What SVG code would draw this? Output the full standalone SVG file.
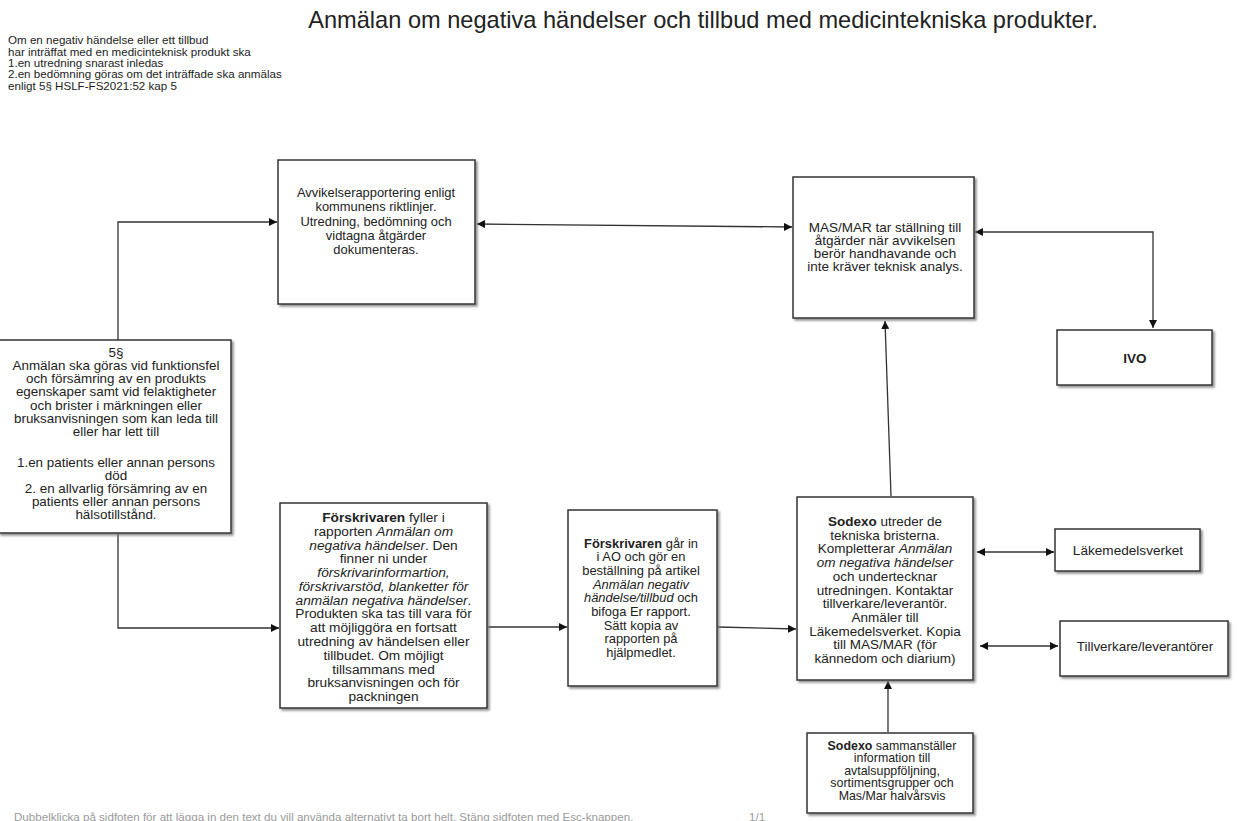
<svg xmlns="http://www.w3.org/2000/svg" width="1237" height="821" viewBox="0 0 1237 821">
<style>
text{font-family:"Liberation Sans",Arial,sans-serif;fill:#222}
.t{text-anchor:middle}
.b{font-weight:bold}
.i{font-style:italic}
.box{fill:#fff;stroke:#333;stroke-width:1.5;filter:url(#sh)}
.c{fill:none;stroke:#333;stroke-width:1.3}
.note{font-size:11.6px}
.foot{font-size:11.6px;fill:#9a9a9a}
</style>
<defs>
<filter id="sh" x="-10%" y="-10%" width="130%" height="130%">
<feDropShadow dx="2" dy="2" stdDeviation="1.3" flood-color="#777" flood-opacity="0.8"/>
</filter>
<marker id="ae" viewBox="0 0 10 10" refX="10" refY="5" markerWidth="8" markerHeight="8" markerUnits="userSpaceOnUse" orient="auto">
<path d="M0,0 L10,5 L0,10 z" fill="#111"/>
</marker>
<marker id="as" viewBox="0 0 10 10" refX="0" refY="5" markerWidth="8" markerHeight="8" markerUnits="userSpaceOnUse" orient="auto">
<path d="M10,0 L0,5 L10,10 z" fill="#111"/>
</marker>
</defs>
<rect width="1237" height="821" fill="#fff"/>

<text x="703" y="28" style="font-size:23.6px;text-anchor:middle">Anmälan om negativa händelser och tillbud med medicintekniska produkter.</text>
<g id="intro">
<text class="note" x="8" y="44">Om en negativ händelse eller ett tillbud</text>
<text class="note" x="8" y="56">har inträffat med en medicinteknisk produkt ska</text>
<text class="note" x="8" y="67">1.en utredning snarast inledas</text>
<text class="note" x="8" y="78">2.en bedömning göras om det inträffade ska anmälas</text>
<text class="note" x="8" y="89.5">enligt 5§ HSLF-FS2021:52 kap 5</text>
</g>

<g id="connectors">
<path class="c" d="M118,340 V222 H277" marker-end="url(#ae)"/>
<path class="c" d="M477,224 L792,227" marker-start="url(#as)" marker-end="url(#ae)"/>
<path class="c" d="M975,232 H1153 V328" marker-start="url(#as)" marker-end="url(#ae)"/>
<path class="c" d="M118,533 V628 H279" marker-end="url(#ae)"/>
<path class="c" d="M488,627 H567" marker-end="url(#ae)"/>
<path class="c" d="M718,627 L796,629" marker-end="url(#ae)"/>
<path class="c" d="M891,496 L885,321" marker-end="url(#ae)"/>
<path class="c" d="M888,732 V681" marker-end="url(#ae)"/>
<path class="c" d="M977,552 H1054" marker-start="url(#as)" marker-end="url(#ae)"/>
<path class="c" d="M980,646 H1058" marker-start="url(#as)" marker-end="url(#ae)"/>
</g>

<g id="n5" style="font-size:13.4px">
<rect class="box" x="-1" y="340" width="232" height="193"/>
<text class="t" x="116" y="357">5§</text>
<text class="t" x="116" y="370">Anmälan ska göras vid funktionsfel</text>
<text class="t" x="116" y="383">och försämring av en produkts</text>
<text class="t" x="116" y="396">egenskaper samt vid felaktigheter</text>
<text class="t" x="116" y="410">och brister i märkningen eller</text>
<text class="t" x="116" y="423">bruksanvisningen som kan leda till</text>
<text class="t" x="116" y="436">eller har lett till</text>
<text class="t" x="116" y="467">1.en patients eller annan persons</text>
<text class="t" x="116" y="480">död</text>
<text class="t" x="116" y="493">2. en allvarlig försämring av en</text>
<text class="t" x="116" y="506">patients eller annan persons</text>
<text class="t" x="116" y="519">hälsotillstånd.</text>
</g>

<g id="avvikelse" style="font-size:12.9px">
<rect class="box" x="278" y="160" width="197" height="144"/>
<text class="t" x="376" y="197">Avvikelserapportering enligt</text>
<text class="t" x="376" y="211">kommunens riktlinjer.</text>
<text class="t" x="376" y="226">Utredning, bedömning och</text>
<text class="t" x="376" y="240">vidtagna åtgärder</text>
<text class="t" x="376" y="254">dokumenteras.</text>
</g>

<g id="masmar" style="font-size:13.5px">
<rect class="box" x="793" y="177" width="181" height="141"/>
<text class="t" x="885" y="232">MAS/MAR tar ställning till</text>
<text class="t" x="885" y="245">åtgärder när avvikelsen</text>
<text class="t" x="885" y="258">berör handhavande och</text>
<text class="t" x="885" y="271">inte kräver teknisk analys.</text>
</g>

<g id="ivo" style="font-size:13.5px">
<rect class="box" x="1057" y="330" width="155" height="55"/>
<text class="t b" x="1135" y="363">IVO</text>
</g>

<g id="forskrivaren1" style="font-size:13.7px">
<rect class="box" x="280" y="503" width="207" height="205"/>
<text class="t" x="383.5" y="522"><tspan class="b">Förskrivaren</tspan> fyller i</text>
<text class="t" x="383.5" y="535.8">rapporten <tspan class="i">Anmälan om</tspan></text>
<text class="t" x="383.5" y="549.5"><tspan class="i">negativa händelser</tspan>. Den</text>
<text class="t" x="383.5" y="563.3">finner ni under</text>
<text class="t i" x="383.5" y="577.1">förskrivarinformartion,</text>
<text class="t i" x="383.5" y="590.9">förskrivarstöd, blanketter för</text>
<text class="t" x="383.5" y="604.6"><tspan class="i">anmälan negativa händelser</tspan>.</text>
<text class="t" x="383.5" y="618.4">Produkten ska tas till vara för</text>
<text class="t" x="383.5" y="632.2">att möjliggöra en fortsatt</text>
<text class="t" x="383.5" y="645.9">utredning av händelsen eller</text>
<text class="t" x="383.5" y="659.7">tillbudet. Om möjligt</text>
<text class="t" x="383.5" y="673.5">tillsammans med</text>
<text class="t" x="383.5" y="687.2">bruksanvisningen och för</text>
<text class="t" x="383.5" y="701">packningen</text>
</g>

<g id="forskrivaren2" style="font-size:12.9px">
<rect class="box" x="568" y="510" width="149" height="176"/>
<text class="t" x="641" y="547.5"><tspan class="b">Förskrivaren</tspan> går in</text>
<text class="t" x="641" y="561.2">i AO och gör en</text>
<text class="t" x="641" y="574.9">beställning på artikel</text>
<text class="t i" x="641" y="588.6">Anmälan negativ</text>
<text class="t" x="641" y="602.3"><tspan class="i">händelse/tillbud</tspan> och</text>
<text class="t" x="641" y="616">bifoga Er rapport.</text>
<text class="t" x="641" y="629.7">Sätt kopia av</text>
<text class="t" x="641" y="643.4">rapporten på</text>
<text class="t" x="641" y="657.1">hjälpmedlet.</text>
</g>

<g id="sodexo1" style="font-size:13.5px">
<rect class="box" x="797" y="497" width="176" height="183"/>
<text class="t" x="885" y="526"><tspan class="b">Sodexo</tspan> utreder de</text>
<text class="t" x="885" y="539.7">tekniska bristerna.</text>
<text class="t" x="885" y="553.4">Kompletterar <tspan class="i">Anmälan</tspan></text>
<text class="t i" x="885" y="567.1">om negativa händelser</text>
<text class="t" x="885" y="580.8">och undertecknar</text>
<text class="t" x="885" y="594.5">utredningen. Kontaktar</text>
<text class="t" x="885" y="608.2">tillverkare/leverantör.</text>
<text class="t" x="885" y="621.9">Anmäler till</text>
<text class="t" x="885" y="635.6">Läkemedelsverket. Kopia</text>
<text class="t" x="885" y="649.3">till MAS/MAR (för</text>
<text class="t" x="885" y="663">kännedom och diarium)</text>
</g>

<g id="lakemedelsverket" style="font-size:13.6px">
<rect class="box" x="1055" y="529" width="145" height="42"/>
<text class="t" x="1128" y="555">Läkemedelsverket</text>
</g>

<g id="tillverkare" style="font-size:13.4px">
<rect class="box" x="1060" y="621" width="168" height="55"/>
<text class="t" x="1145" y="651">Tillverkare/leverantörer</text>
</g>

<g id="sodexo2" style="font-size:12.4px">
<rect class="box" x="807" y="733" width="166" height="80"/>
<text class="t" x="892" y="749.5"><tspan class="b">Sodexo</tspan> sammanställer</text>
<text class="t" x="892" y="762">information till</text>
<text class="t" x="892" y="774.5">avtalsuppföljning,</text>
<text class="t" x="892" y="787">sortimentsgrupper och</text>
<text class="t" x="892" y="799.5">Mas/Mar halvårsvis</text>
</g>

<text class="foot" x="14" y="821">Dubbelklicka på sidfoten för att lägga in den text du vill använda alternativt ta bort helt. Stäng sidfoten med Esc-knappen.</text>
<text class="foot" x="749" y="821">1/1</text>
</svg>
